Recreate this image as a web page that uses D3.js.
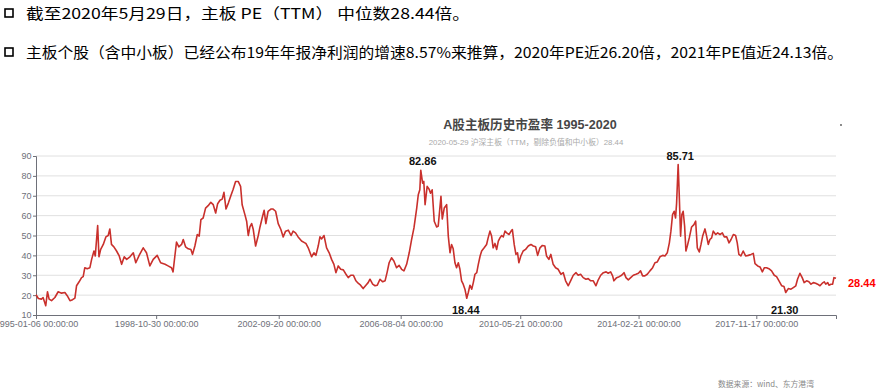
<!DOCTYPE html>
<html><head><meta charset="utf-8">
<script src="https://cdn.jsdelivr.net/npm/d3@7"></script>
<style>
body{margin:0;background:#fff;}
svg{display:block;font-family:"Liberation Sans","Noto Sans CJK SC",sans-serif;}
</style>
</head><body>
<svg id="c" width="883" height="388"></svg>
<script>
// ---------- data ----------
const headerLines = [
  "截至2020年5月29日，主板 PE（TTM） 中位数28.44倍。",
  "主板个股（含中小板）已经公布19年年报净利润的增速8.57%来推算，2020年PE近26.20倍，2021年PE值近24.13倍。"
];
const chartTitle = "A股主板历史市盈率 1995-2020";
const chartSubtitle = "2020-05-29 沪深主板（TTM，剔除负值和中小板）28.44";
const sourceNote = "数据来源：wind、东方港湾";

const dates = [
"1995-01-06","1995-02-02","1995-03-10","1995-03-29","1995-04-29","1995-05-19","1995-06-07","1995-07-05","1995-08-13","1995-09-20","1995-10-29","1995-12-07",
"1996-01-03","1996-02-04","1996-03-05","1996-04-01","1996-04-20","1996-05-20","1996-06-17","1996-07-06","1996-07-25","1996-08-22","1996-09-22","1996-10-12","1996-11-08","1996-11-23","1996-12-21",
"1997-01-05","1997-01-25","1997-02-24","1997-03-26","1997-04-22","1997-05-11","1997-05-30","1997-06-27","1997-07-28","1997-08-28","1997-09-25","1997-10-25","1997-11-22","1997-12-30",
"1998-02-07","1998-03-08","1998-04-16","1998-06-02","1998-07-10","1998-08-18","1998-09-26","1998-11-11","1998-12-21",
"1999-02-10","1999-03-17","1999-04-26","1999-05-14","1999-06-04","1999-06-23","1999-07-20","1999-08-21","1999-09-09","1999-10-06","1999-11-06","1999-12-07","1999-12-26",
"2000-01-22","2000-02-19","2000-03-12","2000-04-01","2000-04-27","2000-05-25","2000-06-24","2000-07-25","2000-08-22","2000-09-19","2000-10-12","2000-11-08","2000-12-04","2000-12-24",
"2001-01-17","2001-02-13","2001-03-14","2001-04-10","2001-05-08","2001-06-07","2001-07-05","2001-07-23","2001-08-24","2001-09-13","2001-10-02","2001-10-21","2001-11-10","2001-11-29","2001-12-26",
"2002-01-26","2002-02-15","2002-03-12","2002-04-04","2002-04-24","2002-05-20","2002-06-21","2002-07-17","2002-08-15","2002-09-14","2002-10-15","2002-11-11","2002-12-09",
"2003-01-09","2003-02-10","2003-03-06","2003-04-03","2003-05-03","2003-06-12","2003-07-20","2003-08-01","2003-08-28","2003-10-06","2003-11-02","2003-11-25","2003-12-22",
"2004-01-11","2004-01-31","2004-02-27","2004-03-28","2004-04-27","2004-05-25","2004-06-21","2004-07-14","2004-08-10","2004-09-08","2004-10-08","2004-11-08","2004-12-04",
"2005-01-02","2005-02-02","2005-03-03","2005-03-29","2005-04-26","2005-05-26","2005-06-27","2005-07-23","2005-08-13","2005-09-13","2005-10-10","2005-11-06","2005-12-07",
"2006-01-08","2006-02-04","2006-03-01","2006-03-23","2006-04-20","2006-05-17","2006-06-17","2006-07-17","2006-08-15","2006-09-11","2006-10-12","2006-11-11","2006-12-09",
"2007-01-05","2007-02-06","2007-02-24","2007-03-14","2007-03-25","2007-04-15","2007-04-29","2007-05-14","2007-06-07","2007-06-30","2007-07-16","2007-08-04","2007-08-28","2007-09-25","2007-10-13","2007-11-14","2007-11-29","2007-12-22",
"2008-01-19","2008-02-07","2008-02-27","2008-03-16","2008-04-04","2008-04-24","2008-05-13","2008-06-02","2008-06-21","2008-07-10","2008-07-29","2008-08-18","2008-09-08","2008-09-26","2008-10-15","2008-11-05","2008-11-23","2008-12-12",
"2009-01-02","2009-01-20","2009-02-10","2009-02-28","2009-03-29","2009-04-26","2009-05-14","2009-06-04","2009-06-23","2009-07-11","2009-08-01","2009-08-21","2009-09-09","2009-09-28","2009-10-18","2009-11-06","2009-11-25","2009-12-15",
"2010-01-11","2010-02-04","2010-02-19","2010-03-12","2010-04-01","2010-04-20","2010-05-05","2010-05-28","2010-06-24","2010-07-22","2010-08-22","2010-09-22","2010-10-19","2010-11-16","2010-12-09",
"2011-01-05","2011-02-02","2011-03-03","2011-03-22","2011-04-18","2011-05-11","2011-06-07","2011-07-05","2011-08-04","2011-09-05","2011-10-02","2011-10-29","2011-11-29","2011-12-26",
"2012-01-26","2012-02-27","2012-03-23","2012-04-20","2012-05-20","2012-06-21","2012-07-17","2012-08-15","2012-09-14","2012-10-15","2012-11-11","2012-12-09",
"2013-01-09","2013-02-10","2013-03-06","2013-04-03","2013-04-26","2013-05-11","2013-06-12","2013-07-11","2013-08-09","2013-09-05","2013-09-28","2013-10-25","2013-11-22","2013-12-22",
"2014-01-22","2014-02-19","2014-03-16","2014-04-09","2014-05-05","2014-06-02","2014-07-03","2014-08-03","2014-08-30","2014-09-26","2014-10-27","2014-11-28","2014-12-24",
"2015-01-20","2015-02-13","2015-03-03","2015-03-22","2015-04-10","2015-04-26","2015-05-08","2015-05-26","2015-06-07","2015-06-23","2015-07-08","2015-07-23","2015-08-09","2015-08-24","2015-09-09","2015-10-02","2015-10-29","2015-11-25","2015-12-15",
"2016-01-03","2016-01-26","2016-02-15","2016-03-05","2016-04-01","2016-04-20","2016-05-09","2016-05-28","2016-06-17","2016-07-06","2016-08-03","2016-08-26","2016-09-22","2016-10-19","2016-11-11","2016-12-09",
"2017-01-05","2017-01-28","2017-02-24","2017-03-22","2017-04-10","2017-04-29","2017-05-22","2017-06-18","2017-07-16","2017-08-16","2017-09-17","2017-10-13","2017-11-02","2017-12-03","2017-12-30",
"2018-01-26","2018-02-19","2018-03-16","2018-04-12","2018-05-13","2018-06-13","2018-07-10","2018-08-07","2018-09-08","2018-10-04","2018-10-24","2018-11-23","2018-12-24",
"2019-01-20","2019-02-18","2019-03-10","2019-04-07","2019-05-03","2019-05-26","2019-06-23","2019-07-20","2019-08-13","2019-09-09","2019-10-06","2019-10-29","2019-11-25","2019-12-22",
"2020-01-14","2020-01-31","2020-02-23","2020-03-08","2020-04-01","2020-04-20","2020-05-05","2020-05-29"
];
const pe = [
20.2,18.3,18.0,18.8,14.7,21.7,18.0,17.2,18.8,21.7,21.0,21.3,
19.7,17.2,17.7,18.5,24.7,26.7,28.8,29.3,33.8,33.3,33.8,38.0,42.2,39.7,55.0,
39.3,43.0,45.5,49.3,50.0,53.3,45.5,44.3,42.2,39.7,35.5,39.3,38.0,39.3,
41.3,36.3,40.0,43.8,41.3,34.7,38.0,40.0,36.3,
35.5,34.7,33.8,31.7,39.7,46.7,44.3,45.5,48.0,44.3,43.3,43.0,40.5,
44.7,50.5,49.7,58.0,58.8,63.8,65.0,66.7,65.5,61.3,66.0,67.7,68.3,71.7,
63.3,66.3,70.0,73.3,77.2,77.2,74.7,65.5,60.5,57.2,50.0,54.3,56.0,53.0,44.7,
50.0,54.3,58.8,62.7,56.0,62.2,63.3,63.3,62.2,56.0,53.0,49.3,52.2,
52.7,50.0,52.2,51.3,49.3,47.2,46.3,46.0,43.8,39.3,41.3,40.0,44.7,
49.3,48.3,50.0,43.8,41.3,38.0,35.5,31.3,34.7,33.0,32.7,30.5,28.8,
30.0,30.0,27.2,26.0,25.0,23.3,25.0,26.3,28.0,25.5,24.7,25.0,28.0,
26.7,27.2,31.7,36.3,38.8,37.2,33.8,35.0,33.0,32.2,35.5,41.3,48.0,
53.8,63.8,70.5,73.0,82.86,76.3,77.2,65.5,74.7,73.3,71.3,73.0,57.2,54.3,54.7,69.7,58.3,63.8,
65.5,49.7,41.3,45.5,43.3,36.3,33.8,36.3,33.0,27.2,25.5,23.0,18.44,21.3,25.0,23.0,26.3,30.5,
31.3,35.5,39.7,42.2,43.8,45.5,48.8,52.2,49.7,43.8,46.0,43.0,47.2,48.8,50.0,49.3,52.2,51.3,
50.5,52.2,53.0,45.5,40.5,41.3,36.3,39.7,42.2,43.0,44.7,45.5,44.7,44.3,40.0,
43.8,45.0,44.7,39.7,38.0,40.5,35.5,33.8,33.0,30.5,31.3,27.2,24.7,27.2,
30.0,31.3,30.0,30.5,28.8,28.0,28.3,27.2,27.2,24.7,27.7,30.0,
31.3,31.7,31.0,31.7,29.7,27.2,28.8,29.3,30.0,31.3,28.8,27.7,28.8,30.0,
30.5,31.0,32.2,29.7,29.7,30.5,32.2,33.8,36.3,36.7,39.3,40.0,39.7,
41.3,46.3,52.2,60.5,62.2,58.8,66.3,85.71,71.3,49.7,60.5,62.2,54.7,42.2,44.7,48.8,54.3,55.5,57.2,
43.8,41.7,45.5,49.7,53.3,49.7,45.5,48.0,48.8,52.2,50.5,51.3,50.5,51.3,49.3,49.3,
46.3,48.0,50.5,50.0,46.3,40.5,39.7,42.2,39.7,40.0,40.5,41.0,35.8,34.7,34.2,
31.7,33.8,33.8,33.3,32.2,30.0,29.3,27.2,24.7,24.3,21.30,23.3,23.0,
23.8,24.7,28.0,31.0,28.8,26.3,27.2,26.7,25.5,26.3,26.0,25.5,24.7,26.0,
26.7,25.5,26.3,25.0,25.5,25.5,28.8,28.44
];
const yTicks = [10,20,30,40,50,60,70,80,90];
const xTicks = ["1995-01-06","1998-10-30","2002-09-20","2006-08-04","2010-05-21","2014-02-21","2017-11-17"];
const maxLabels = [["2007-03-25",82.86],["2015-05-26",85.71]];
const minLabels = [["2008-09-08",18.44],["2018-10-24",21.30]];
const lastLabel = ["2020-05-29",28.44];

// ---------- drawing ----------
const parse = d3.timeParse("%Y-%m-%d");
const data = dates.map((d,i)=>({date:parse(d), v:pe[i]}));
const svg = d3.select("#c");
svg.append("rect").attr("width",883).attr("height",388).attr("fill","#fff");

// header bullets
const hdr = svg.append("g").attr("font-family","'Noto Sans CJK SC',sans-serif");
const hdrLayout = [{base:19, top:9, len:444},{base:58, top:48, len:817}];
hdrLayout.forEach((L,i)=>{
  hdr.append("rect").attr("x",5).attr("y",L.top).attr("width",8).attr("height",8)
    .attr("fill","none").attr("stroke","#000").attr("stroke-width",1.6);
  hdr.append("text").attr("x",26).attr("y",L.base).attr("font-size",15).attr("fill","#000")
    .attr("textLength",L.len).attr("lengthAdjust","spacingAndGlyphs")
    .text(headerLines[i]);
});

const x = d3.scaleTime().domain([parse("1995-01-06"), parse("2020-05-29")]).range([36,836]);
const y = d3.scaleLinear().domain([10,90]).range([315,156]);

// title
svg.append("text").attr("x",530).attr("y",129).attr("text-anchor","middle")
  .attr("font-size",12.6).attr("font-weight","bold").attr("fill","#464646").text(chartTitle);
svg.append("text").attr("x",526).attr("y",144.5).attr("text-anchor","middle")
  .attr("font-size",7.8).attr("fill","#aaa").text(chartSubtitle);

// grid
svg.append("g").selectAll("line").data(yTicks.filter(t=>t>10)).join("line")
  .attr("x1",36).attr("x2",836).attr("y1",d=>y(d)).attr("y2",d=>y(d))
  .attr("stroke","#e0e0e0").attr("stroke-width",1);

// axes
const axisColor = "#6E7079";
const gx = svg.append("g").attr("transform","translate(0,315)")
  .call(d3.axisBottom(x).tickValues(xTicks.map(parse)).tickFormat(d3.timeFormat("%Y-%m-%d 00:00:00")).tickSize(4).tickPadding(2));
const gy = svg.append("g").attr("transform","translate(36,0)")
  .call(d3.axisLeft(y).tickValues(yTicks).tickSize(3).tickPadding(1.5));
[gx,gy].forEach(g=>{
  g.select(".domain").attr("stroke",axisColor);
  g.selectAll(".tick line").attr("stroke",axisColor);
  g.selectAll("text").attr("fill",axisColor).attr("font-size",9)
    .attr("font-family","'Liberation Sans',sans-serif");
});

// line
svg.append("path").datum(data)
  .attr("d", d3.line().x(d=>x(d.date)).y(d=>y(d.v)))
  .attr("fill","none").attr("stroke","#c9302c").attr("stroke-width",1.6)
  .attr("stroke-linejoin","round");

// annotations
const ann = svg.append("g").attr("font-weight","bold").attr("font-size",11)
  .attr("text-anchor","middle").attr("font-family","'Liberation Sans',sans-serif");
maxLabels.forEach(([d,v])=>{
  ann.append("text").attr("x",x(parse(d))+2).attr("y",y(v)-5).attr("fill","#111").text(v.toFixed(2));
});
minLabels.forEach(([d,v])=>{
  ann.append("text").attr("x",x(parse(d))-1).attr("y",314).attr("fill","#111").text(v.toFixed(2));
});
ann.append("text").attr("x",x(parse(lastLabel[0]))+12).attr("y",y(lastLabel[1])+9)
  .attr("text-anchor","start").attr("fill","#ff0000").text(lastLabel[1].toFixed(2));

// small toolbox mark
svg.append("circle").attr("cx",841).attr("cy",125).attr("r",0.9).attr("fill","#555");

// source
svg.append("text").attr("x",718).attr("y",386.5).attr("font-size",7.8).attr("fill","#888")
  .attr("font-family","'Noto Sans CJK SC',sans-serif").text(sourceNote);
</script>
</body></html>
